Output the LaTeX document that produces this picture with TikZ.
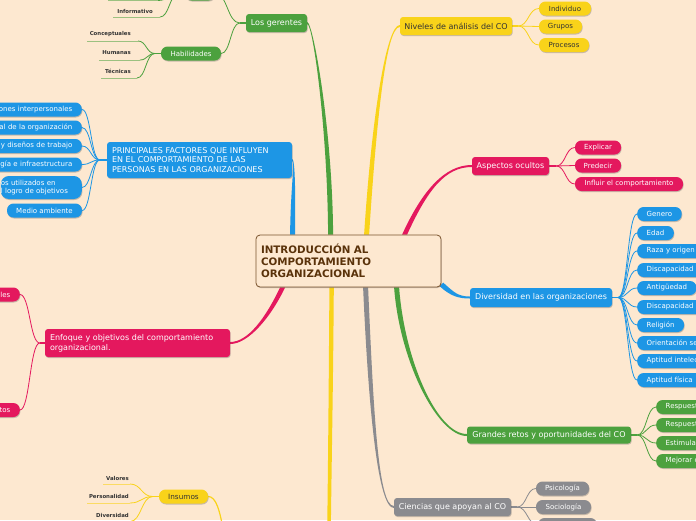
\documentclass[tikz,border=0pt]{standalone}
\usepackage{fontspec}
\setmainfont{DejaVu Sans}
\usetikzlibrary{calc,shadows}
\definecolor{bgc}{RGB}{253,232,208}
\definecolor{cgreen}{RGB}{76,161,62}
\definecolor{cblue}{RGB}{29,150,229}
\definecolor{cpink}{RGB}{228,24,94}
\definecolor{cyellow}{RGB}{249,211,26}
\definecolor{cgray}{RGB}{139,139,143}
\definecolor{cbrown}{RGB}{122,82,44}
\definecolor{ctext}{RGB}{90,50,10}
\definecolor{dark}{RGB}{51,51,51}
\colorlet{lgreen}{cgreen!55!bgc}
\colorlet{lyellow}{cyellow!60!bgc}
\pgfdeclarelayer{bgl}
\pgfdeclarelayer{conn}
\pgfsetlayers{bgl,conn,main}
\newcommand\taper[7]{\fill[#1] ($#2+#6$) .. controls ($#3+#6$) and ($#4+#7$) .. ($#5+#7$) -- ($#5-#7$) .. controls ($#4-#7$) and ($#3-#6$) .. ($#2-#6$) -- cycle;}
\newcommand\bra[3]{\path (#2) -- (#3) coordinate[pos=0.5] (tmpm); \draw[#1] (#2) .. controls (tmpm |- #2) and (tmpm |- #3) .. (#3);}
\tikzset{
  shad/.style={drop shadow={shadow xshift=0.6pt, shadow yshift=-1pt, opacity=0.3, fill=black!70}},
  mainbox/.style={shape=rectangle, rounded corners=3pt, inner sep=0pt, minimum height=18pt, font=\fontsize{8}{9.5}\selectfont, text=white, shad},
  pill/.style={shape=rectangle, rounded corners=6.5pt, inner sep=0pt, minimum height=14pt, font=\fontsize{7}{8}\selectfont, text=white, shad},
  pillw/.style={pill, anchor=west, inner xsep=9.5pt},
  pillcut/.style={pillw, text width=60pt, align=left},
  pille/.style={pill, anchor=east, inner xsep=9.5pt, align=right},
  tleaf/.style={inner sep=0pt, anchor=east, font=\bfseries\fontsize{5.4}{6}\selectfont, text=dark},
  sub/.style={line width=0.8pt},
  stub/.style={line width=1.3pt},
  uline/.style={line width=1pt},
}
\begin{document}
\begin{tikzpicture}[x=1pt,y=-1pt]
\useasboundingbox (0,0) rectangle (696,520);
\begin{pgfonlayer}{bgl}
\fill[bgc] (0,0) rectangle (696,520);
\end{pgfonlayer}

% ---------- central ----------
\node[draw=cbrown, line width=0.8pt, fill=bgc, rounded corners=4pt, minimum width=185pt, minimum height=52pt, inner sep=0pt, text width=175pt, align=left, font=\bfseries\fontsize{10.3}{12}\selectfont, text=ctext, shad] (c) at (348.5,261) {INTRODUCCIÓN AL\\COMPORTAMIENTO\\ORGANIZACIONAL};

% ---------- Los gerentes ----------
\node[mainbox, fill=cgreen, minimum width=61pt] (lg) at (276.5,23) {Los gerentes};
\node[pill, fill=cgreen, minimum width=30pt] (lgt) at (200,-6.5) {};
\node[pill, fill=cgreen, minimum width=60pt] (hab) at (191,53.5) {Habilidades};
\node[tleaf] (h1) at (131,34) {Conceptuales};
\node[tleaf] (h2) at (131,53) {Humanas};
\node[tleaf] (h3) at (131,71) {Técnicas};
\node[tleaf] (inf) at (153,11) {Informativo};
\coordinate (h1u) at (138,41);
\coordinate (h2u) at (140,60);
\coordinate (h3u) at (137,78);
\coordinate (infu) at (160,17);
\coordinate (topu) at (158,0.5);

% ---------- Principales factores ----------
\node[mainbox, fill=cblue, minimum width=185pt, minimum height=36pt, text width=175pt, align=left, font=\fontsize{8}{9.3}\selectfont] (pf) at (199.5,160) {PRINCIPALES FACTORES QUE INFLUYEN\\EN EL COMPORTAMIENTO DE LAS\\PERSONAS EN LAS ORGANIZACIONES};
\node[pille, fill=cblue, text width=100pt] (p1) at (82,109.5) {ones interpersonales};
\node[pille, fill=cblue, text width=100pt] (p2) at (82,127.5) {al de la organización};
\node[pille, fill=cblue, text width=100pt] (p3) at (82,146) {y diseños de trabajo};
\node[pill, rounded corners=8pt, fill=cblue, anchor=east, minimum height=23pt, text width=81pt, align=left, font=\fontsize{7}{8.5}\selectfont] (p5) at (82,187.5) {os utilizados en\\l logro de objetivos};
\node[pille, fill=cblue, text width=100pt] (p4) at (82,164.5) {gía e infraestructura};
\node[pill, fill=cblue, minimum width=75pt] (p6) at (44.5,210.5) {Medio ambiente};

% ---------- Enfoque ----------
\node[mainbox, fill=cpink, minimum width=185pt, minimum height=28pt, text width=175pt, align=left, font=\fontsize{8}{10}\selectfont] (en) at (137.5,343) {Enfoque y objetivos del comportamiento\\organizacional.};
\node[pille, fill=cpink, text width=40pt] (e1) at (20,294.5) {les};
\node[pille, fill=cpink, text width=40pt] (e2) at (20,410) {tos};

% ---------- Insumos ----------
\node[pill, fill=cyellow, text=dark, minimum width=49pt, font=\fontsize{7.3}{8}\selectfont] (ins) at (183.5,496.5) {Insumos};
\node[tleaf] (i1) at (129,478) {Valores};
\node[tleaf] (i2) at (129,496) {Personalidad};
\node[tleaf] (i3) at (129,515) {Diversidad};
\coordinate (i1u) at (130,484);
\coordinate (i2u) at (130,503);
\coordinate (i3u) at (130,521.5);
\coordinate (insp) at (224,535);

% ---------- Niveles ----------
\node[mainbox, fill=cyellow, text=dark, minimum width=112pt] (ni) at (456,26) {Niveles de análisis del CO};
\node[pill, fill=cyellow, text=dark, minimum width=52pt] (n1) at (565,8.5) {Individuo};
\node[pill, fill=cyellow, text=dark, minimum width=43pt] (n2) at (560.5,26.5) {Grupos};
\node[pill, fill=cyellow, text=dark, minimum width=50pt] (n3) at (564,45) {Procesos};

% ---------- Aspectos ocultos ----------
\node[mainbox, fill=cpink, minimum width=77pt] (ao) at (510.5,166) {Aspectos ocultos};
\node[pill, fill=cpink, minimum width=46pt] (a1) at (598,147.5) {Explicar};
\node[pill, fill=cpink, minimum width=46pt] (a2) at (598,165.5) {Predecir};
\node[pill, fill=cpink, minimum width=108pt] (a3) at (629,184) {Influir el comportamiento};

% ---------- Diversidad ----------
\node[mainbox, fill=cblue, minimum width=142pt, minimum height=19pt] (dv) at (541,297.5) {Diversidad en las organizaciones};
\node[pillw, fill=cblue] (d1) at (637,214) {Genero};
\node[pillw, fill=cblue] (d2) at (637,233) {Edad};
\node[pillcut, fill=cblue] (d3) at (637,251) {Raza y origen};
\node[pillcut, fill=cblue] (d4) at (637,270) {Discapacidad};
\node[pillw, fill=cblue] (d5) at (637,288) {Antigüedad};
\node[pillcut, fill=cblue] (d6) at (637,307) {Discapacidad};
\node[pillw, fill=cblue] (d7) at (637,325) {Religión};
\node[pillcut, fill=cblue] (d8) at (637,343) {Orientación se};
\node[pillcut, fill=cblue] (d9) at (637,361) {Aptitud intelec};
\node[pillcut, fill=cblue] (d10) at (637,380) {Aptitud física};

% ---------- Grandes retos ----------
\node[mainbox, fill=cgreen, minimum width=164pt, minimum height=17pt] (gr) at (549,435) {Grandes retos y oportunidades del CO};
\node[pillcut, fill=cgreen] (g1) at (656,407) {Respuest};
\node[pillcut, fill=cgreen] (g2) at (656,425) {Respuest};
\node[pillcut, fill=cgreen] (g3) at (656,443) {Estimula};
\node[pillcut, fill=cgreen] (g4) at (656,461) {Mejorar c};

% ---------- Ciencias ----------
\node[mainbox, fill=cgray, minimum width=117pt] (ci) at (452.5,507) {Ciencias que apoyan al CO};
\node[pill, fill=cgray, minimum width=53pt] (c1) at (562.5,488.5) {Psicología};
\node[pill, fill=cgray, minimum width=55pt] (c2) at (563.5,507) {Sociología};
\node[pill, fill=cgray, minimum width=59pt] (c3) at (567.5,525) {};

% ================= connectors =================
\begin{pgfonlayer}{conn}
\coordinate (sLG) at ($(c.north west)+(75,0)$);
\coordinate (sPF) at ($(c.north west)+(37,0)$);
\coordinate (sNI) at ($(c.north west)+(111,0)$);
\coordinate (sAO) at ($(c.north west)+(149,0)$);
\coordinate (sEN) at ($(c.south west)+(27,0)$);
\coordinate (sYD) at ($(c.south west)+(76,0)$);
\coordinate (sCI) at ($(c.south west)+(110,0)$);
\coordinate (sGR) at ($(c.south west)+(141,0)$);
\coordinate (sDV) at ($(c.south east)+(0,-3)$);
\coordinate (yd) at (329,530);

\taper{cgreen}{(sLG)}{(330,130)}{(313,23)}{(lg.east)}{(2.5,0)}{(0,-1)}
\taper{cblue}{(sPF)}{(293,190)}{(295,160)}{(pf.east)}{(2.5,0)}{(0,-1)}
\taper{cpink}{(sEN)}{(268,318)}{(248,343)}{(en.east)}{(2.5,0)}{(0,1)}
\taper{cyellow}{(sYD)}{(331,380)}{(330,450)}{(yd)}{(2.2,0)}{(1.8,0)}
\taper{cgray}{(sCI)}{(371,410)}{(378,507)}{(ci.west)}{(-2.5,0)}{(0,1)}
\taper{cgreen}{(sGR)}{(402,360)}{(437,435)}{(gr.west)}{(-2.5,0)}{(0,1)}
\taper{cblue}{(sDV)}{(452,294)}{(458,297.5)}{(dv.west)}{(-1.8,1.8)}{(0,1)}
\taper{cpink}{(sAO)}{(425,190)}{(445,166)}{(ao.west)}{(-2.5,0)}{(0,-1)}
\taper{cyellow}{(sNI)}{(374,120)}{(386,26)}{(ni.west)}{(-2.5,0)}{(0,-1)}

% Los gerentes
\coordinate (lgj) at ($(lg.west)+(-6,0)$);
\draw[stub,cgreen] (lg.west) -- (lgj);
\bra{sub,cgreen}{lgj}{hab.east}
\bra{sub,cgreen}{lgj}{lgt.east}
\coordinate (habj) at ($(hab.west)+(-6,0)$);
\draw[stub,cgreen] (hab.west) -- (habj);
\bra{sub,cgreen}{habj}{h1u}
\bra{sub,cgreen}{habj}{h2u}
\bra{sub,cgreen}{habj}{h3u}
\draw[uline,lgreen] (87,41) -- (h1u);
\draw[uline,lgreen] (99,60) -- (h2u);
\draw[uline,lgreen] (101,78) -- (h3u);
\coordinate (lgtj) at ($(lgt.west)+(-6,0)$);
\bra{sub,cgreen}{lgtj}{infu}
\bra{sub,cgreen}{lgtj}{topu}
\draw[uline,lgreen] (113,17) -- (infu);
\draw[uline,lgreen] (108,0.5) -- (topu);

% Principales
\coordinate (pfj) at ($(pf.west)+(-7,0)$);
\draw[stub,cblue] (pf.west) -- (pfj);
\foreach \n in {p1,p2,p3,p4,p5,p6}{\bra{sub,cblue}{pfj}{\n.east}}

% Enfoque
\coordinate (enj) at ($(en.west)+(-5,0)$);
\draw[stub,cpink] (en.west) -- (enj);
\bra{sub,cpink}{enj}{e1.east}
\bra{sub,cpink}{enj}{e2.east}

% Insumos
\draw[line width=1.2pt,cyellow] (ins.east) .. controls (216,496.5) and (220,510) .. (insp);
\coordinate (insj) at ($(ins.west)+(-6,0)$);
\draw[stub,cyellow] (ins.west) -- (insj);
\bra{sub,cyellow}{insj}{i1u}
\bra{sub,cyellow}{insj}{i2u}
\bra{sub,cyellow}{insj}{i3u}
\draw[uline,lyellow] (103,484) -- (i1u);
\draw[uline,lyellow] (87,503) -- (i2u);
\draw[uline,lyellow] (97,521.5) -- (i3u);

% Niveles
\coordinate (nij) at ($(ni.east)+(6,0)$);
\draw[stub,cyellow] (ni.east) -- (nij);
\foreach \n in {n1,n2,n3}{\bra{sub,cyellow}{nij}{\n.west}}

% Aspectos
\coordinate (aoj) at ($(ao.east)+(7,0)$);
\draw[stub,cpink] (ao.east) -- (aoj);
\foreach \n in {a1,a2,a3}{\bra{sub,cpink}{aoj}{\n.west}}

% Diversidad
\coordinate (dvj) at ($(dv.east)+(6,0)$);
\draw[stub,cblue] (dv.east) -- (dvj);
\foreach \n in {d1,d2,d3,d4,d5,d6,d7,d8,d9,d10}{\bra{sub,cblue}{dvj}{\n.west}}

% Grandes retos
\coordinate (grj) at ($(gr.east)+(6,0)$);
\draw[stub,cgreen] (gr.east) -- (grj);
\foreach \n in {g1,g2,g3,g4}{\bra{sub,cgreen}{grj}{\n.west}}

% Ciencias
\coordinate (cij) at ($(ci.east)+(6,0)$);
\draw[stub,cgray] (ci.east) -- (cij);
\foreach \n in {c1,c2,c3}{\bra{sub,cgray}{cij}{\n.west}}
\end{pgfonlayer}
\end{tikzpicture}
\end{document}
